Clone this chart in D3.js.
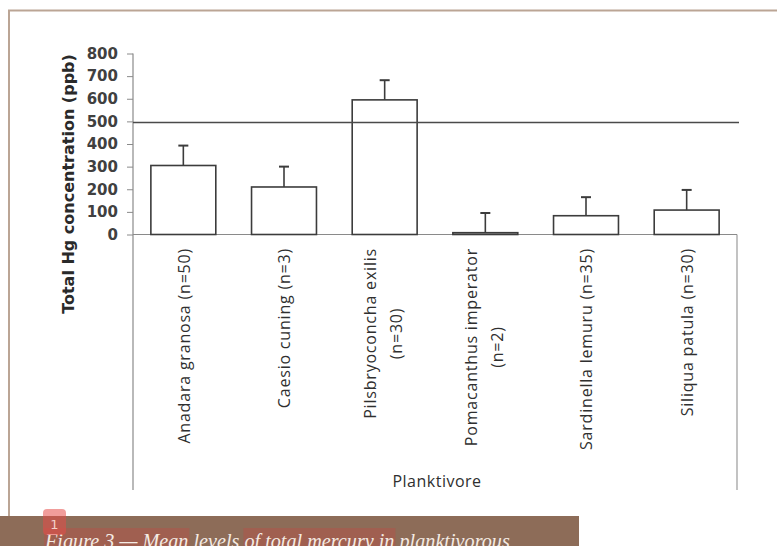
<!DOCTYPE html>
<html>
<head>
<meta charset="utf-8">
<script src="https://cdn.jsdelivr.net/npm/d3@7"></script>
<style>
  html, body { margin: 0; padding: 0; background: #fff; }
  svg { display: block; }
</style>
</head>
<body>
<div id="chart"></div>
<script>
// data
const species = ["Anadara granosa (n=50)", "Caesio cuning (n=3)", "Pilsbryoconcha exilis|(n=30)",
                 "Pomacanthus imperator|(n=2)", "Sardinella lemuru (n=35)", "Siliqua patula (n=30)"]
const meanHg = [305, 210, 595, 8, 83, 108]
const errHg = [88, 90, 87, 87, 82, 89]
const yTicks = [0, 100, 200, 300, 400, 500, 600, 700, 800]
const limitHg = 495   // horizontal guideline (~500 ppb)
const groupLabel = "Planktivore"
const yTitle = "Total Hg concentration (ppb)"
const caption = "Figure 3 \u2014 Mean levels of total mercury in planktivorous"

const W = 777, H = 546
const plot = { left: 133, right: 737, top: 53.5, bottom: 234.5, boxBottom: 490 }
const labelFont = { family: "Open Sans", size: 16, spacing: 0.8, color: "#2f2f2f" }

const svg = d3.select("#chart").append("svg").attr("width", W).attr("height", H)

// outer page frame
svg.append("path")
  .attr("d", `M9,${H} V10.5 H${W}`)
  .attr("fill", "none").attr("stroke", "#bba595").attr("stroke-width", 2)

const x = d3.scaleBand()
  .domain(species)
  .range([plot.left, plot.right])
  .paddingInner(0.355)
  .paddingOuter(0.1775)

const y = d3.scaleLinear().domain([0, 800]).range([plot.bottom, plot.top])

// y axis
const yAxis = d3.axisLeft(y).tickValues(yTicks).tickSize(6).tickPadding(9)
const gy = svg.append("g").attr("transform", `translate(${plot.left},0)`).call(yAxis)
gy.select(".domain").remove()
gy.selectAll(".tick line").attr("stroke", "#8a8a8a")
gy.selectAll(".tick text")
  .attr("font-family", "DejaVu Sans").attr("font-weight", "bold")
  .attr("font-size", 15).attr("fill", "#404040")

// axis lines (category box reaches down below the labels)
svg.append("line").attr("x1", plot.left).attr("x2", plot.left)
  .attr("y1", plot.top).attr("y2", plot.boxBottom)
  .attr("stroke", "#8a8a8a").attr("stroke-width", 1.2)
svg.append("line").attr("x1", plot.right).attr("x2", plot.right)
  .attr("y1", plot.bottom).attr("y2", plot.boxBottom)
  .attr("stroke", "#9a9a9a").attr("stroke-width", 1.2)
svg.append("line").attr("x1", plot.left).attr("x2", plot.right)
  .attr("y1", plot.bottom).attr("y2", plot.bottom)
  .attr("stroke", "#8a8a8a").attr("stroke-width", 1.2)

// y title
svg.append("text")
  .attr("transform", `translate(69,184) rotate(-90)`)
  .attr("text-anchor", "middle").attr("dominant-baseline", "middle")
  .attr("font-family", "DejaVu Sans").attr("font-weight", "bold")
  .attr("font-size", 16).attr("fill", "#2a2a2a")
  .text(yTitle)

// bars
svg.selectAll(".bar")
  .data(species)
  .join("rect")
  .attr("class", "bar")
  .attr("x", d => x(d))
  .attr("width", x.bandwidth())
  .attr("y", (d, i) => y(meanHg[i]))
  .attr("height", (d, i) => y(0) - y(meanHg[i]))
  .attr("fill", "#fff").attr("stroke", "#3c3c3c").attr("stroke-width", 1.6)

// error bars (upper only)
const eb = svg.selectAll(".err").data(species).join("g").attr("class", "err")
eb.append("line")
  .attr("x1", d => x(d) + x.bandwidth() / 2).attr("x2", d => x(d) + x.bandwidth() / 2)
  .attr("y1", (d, i) => y(meanHg[i])).attr("y2", (d, i) => y(meanHg[i] + errHg[i]))
  .attr("stroke", "#3c3c3c").attr("stroke-width", 1.6)
eb.append("line")
  .attr("x1", d => x(d) + x.bandwidth() / 2 - 5).attr("x2", d => x(d) + x.bandwidth() / 2 + 5)
  .attr("y1", (d, i) => y(meanHg[i] + errHg[i])).attr("y2", (d, i) => y(meanHg[i] + errHg[i]))
  .attr("stroke", "#3c3c3c").attr("stroke-width", 2)

// guideline
svg.append("line")
  .attr("x1", plot.left).attr("x2", plot.right + 2)
  .attr("y1", y(limitHg)).attr("y2", y(limitHg))
  .attr("stroke", "#4a4a4a").attr("stroke-width", 1.6)

// category labels, rotated, anchored to the axis
function catText(g) {
  return g.append("text")
    .attr("font-family", labelFont.family).attr("font-size", labelFont.size)
    .attr("letter-spacing", labelFont.spacing).attr("fill", labelFont.color)
    .attr("dominant-baseline", "middle")
}
svg.selectAll(".cat").data(species).join("g").attr("class", "cat")
  .each(function(d) {
    const lines = d.split("|")
    const cx = x(d) + x.bandwidth() / 2
    const g = d3.select(this)
    const offs = lines.length === 1 ? [2] : [-12.5, 13.5]
    // first line sets the top; a second line is centred on it
    const first = catText(g)
      .attr("transform", `translate(${cx + offs[0]},248) rotate(-90)`)
      .attr("text-anchor", "end")
      .text(lines[0])
    if (lines.length > 1) {
      const len = first.node().getComputedTextLength()
      catText(g)
        .attr("transform", `translate(${cx + offs[1]},${248 + len / 2}) rotate(-90)`)
        .attr("text-anchor", "middle")
        .text(lines[1])
    }
  })

svg.append("text")
  .attr("x", (plot.left + plot.right) / 2 + 2).attr("y", 483)
  .attr("text-anchor", "middle").attr("dominant-baseline", "middle")
  .attr("font-family", labelFont.family).attr("font-size", labelFont.size)
  .attr("letter-spacing", 0.5).attr("fill", labelFont.color)
  .text(groupLabel)

// caption strip at the bottom (cut off by the page edge, as in the source)
const capG = svg.append("g")
capG.append("rect").attr("x", 0).attr("y", 516).attr("width", 579).attr("height", 30)
  .attr("fill", "#8d6c58")
const hl = capG.append("g")
const cap = capG.append("text")
  .attr("x", 45).attr("y", 548)
  .attr("font-family", "Liberation Serif").attr("font-style", "italic")
  .attr("font-size", 20.2).attr("fill", "#f4ebe4")
  .text(caption)
// highlight boxes behind parts of the caption
const capNode = cap.node()
;["Figure 3 \u2014 Mean", "of total mercury in"].forEach(s => {
  const i0 = caption.indexOf(s), i1 = i0 + s.length - 1
  const xa = capNode.getStartPositionOfChar(i0).x
  const xb = capNode.getEndPositionOfChar(i1).x
  hl.append("rect")
    .attr("x", xa - 1).attr("y", 528).attr("width", xb - xa + 2).attr("height", 18)
    .attr("fill", "#a05f50")
})
// small note marker
svg.append("rect").attr("x", 43).attr("y", 509).attr("width", 23).attr("height", 26).attr("rx", 4)
  .attr("fill", "#e64c48").attr("fill-opacity", 0.55)
svg.append("text").attr("x", 54.5).attr("y", 529).attr("text-anchor", "middle")
  .attr("font-family", "DejaVu Sans").attr("font-size", 13).attr("fill", "#f3d0c8")
  .text("1")
</script>
</body>
</html>
